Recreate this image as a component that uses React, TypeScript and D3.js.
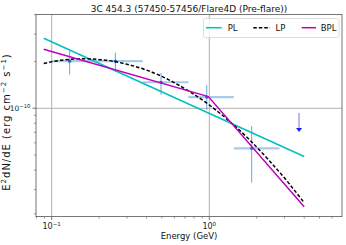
import * as d3 from "d3";

// binned SED points (GeV, erg cm-2 s-1)
const energy = [0.13, 0.2535, 0.494, 0.963, 1.858];
const binLo = [0.1, 0.1945, 0.378, 0.736, 1.43];
const binHi = [0.1945, 0.378, 0.736, 1.43, 2.79];
const flux = [2.01e-10, 2.01e-10, 1.47e-10, 1.18e-10, 5.53e-11];
const fluxLo = [1.65e-10, 1.72e-10, 1.22e-10, 9.75e-11, 3.33e-11];
const fluxHi = [2.34e-10, 2.28e-10, 1.68e-10, 1.41e-10, 7.69e-11];

// upper limit
const ulEnergy = 3.71;
const ulFlux = 9.33e-11;
const ulTip = 7.04e-11;

// model curves
const plEnergy = [0.089, 4.0];
const plFlux = [2.82e-10, 4.9e-11];
const bplEnergy = [0.089, 0.986, 4.0];
const bplFlux = [2.4e-10, 1.19e-10, 2.33e-11];
const lpEnergy = [0.089, 0.12, 0.16, 0.22, 0.3, 0.4, 0.55, 0.75, 1.0, 1.35, 1.8, 2.4, 3.2, 4.0];
const lpFlux = [
  1.94e-10, 2.05e-10, 2.08e-10, 2.04e-10, 1.92e-10, 1.76e-10, 1.53e-10,
  1.28e-10, 1.05e-10, 8.21e-11, 6.27e-11, 4.61e-11, 3.29e-11, 2.47e-11,
];

const xMajor = [0.1, 1];
const xMajorExp = ["−1", "0"];
const xMinor = [0.08, 0.09, 0.2, 0.3, 0.4, 0.5, 0.6, 0.7, 0.8, 0.9, 2, 3, 4, 5, 6];
const yMajor = [1e-10];
const yMajorExp = ["−10"];
const yMinor = [2e-10, 3e-10, 4e-10, 9e-11, 8e-11, 7e-11, 6e-11, 5e-11, 4e-11, 3e-11, 2.1e-11];

const FONT = "DejaVu Sans, sans-serif";
const AXIS = "#555";
const GRID = "#b0b0b0";

const App = () => {
  const width = 346,
    height = 245,
    left = 36,
    right = 342,
    top = 14.5,
    bottom = 216.6;

  const x = d3.scaleLog().domain([0.0795, 6.95]).range([left, right]);
  const y = d3.scaleLog().domain([2.011e-11, 4.01e-10]).range([bottom, top]);

  const straight = (es: number[], fs: number[]) =>
    d3.line<number>((d, i) => x(es[i]), (d) => y(d))(fs) as string;
  const lpPath = d3
    .line<number>((d, i) => x(lpEnergy[i]), (d) => y(d))
    .curve(d3.curveMonotoneX)(lpFlux) as string;

  return (
    <svg width={width} height={height} style={{ display: "block", position: "absolute", left: 0, top: 0 }}>
      <rect width={width} height={height} fill="white" />
      <defs>
        <clipPath id="plot">
          <rect x={left} y={top} width={right - left} height={bottom - top} />
        </clipPath>
      </defs>

      {/* grid */}
      {xMajor.map((t) => (
        <line key={"gx" + t} x1={x(t)} x2={x(t)} y1={top} y2={bottom} stroke={GRID} strokeWidth={1} />
      ))}
      {yMajor.map((t) => (
        <line key={"gy" + t} x1={left} x2={right} y1={y(t)} y2={y(t)} stroke={GRID} strokeWidth={1} />
      ))}

      <g clipPath="url(#plot)">
        {/* error bars */}
        {energy.map((e, i) => (
          <g key={"pt" + i}>
            <line x1={x(binLo[i])} x2={x(binHi[i])} y1={y(flux[i])} y2={y(flux[i])}
              stroke="#a9cae8" strokeWidth={2.2} />
            <line x1={x(e)} x2={x(e)} y1={y(fluxLo[i])} y2={y(fluxHi[i])}
              stroke="#6aa3d8" strokeWidth={1} />
            <circle cx={x(e)} cy={y(flux[i])} r={1.6} fill="#2b63d6" />
          </g>
        ))}
        <line x1={x(ulEnergy)} x2={x(ulEnergy)} y1={y(ulFlux)} y2={y(ulTip) - 3}
          stroke="#8a8cf0" strokeWidth={1.2} />
        <path
          d={`M${x(ulEnergy) - 3},${y(ulTip) - 4} L${x(ulEnergy) + 3},${y(ulTip) - 4} L${x(ulEnergy)},${y(ulTip)} Z`}
          fill="#1a1aff"
        />

        {/* models */}
        <path d={straight(plEnergy, plFlux)} fill="none" stroke="#00bfbf" strokeWidth={1.5} />
        <path d={lpPath} fill="none" stroke="black" strokeWidth={1.5} strokeDasharray="3.5,2" />
        <path d={straight(bplEnergy, bplFlux)} fill="none" stroke="#bf00bf" strokeWidth={1.5} />
      </g>

      {/* frame */}
      <rect x={left} y={top} width={right - left} height={bottom - top} fill="none" stroke={AXIS} strokeWidth={0.8} />

      {/* x ticks */}
      {xMajor.map((t, i) => (
        <g key={"xt" + t}>
          <line x1={x(t)} x2={x(t)} y1={bottom} y2={bottom + 3.5} stroke={AXIS} strokeWidth={0.8} />
          <text x={x(t)} y={bottom + 12.5} fontFamily={FONT} fontSize={8} textAnchor="middle" fill="#222">
            10<tspan dy={-3.3} fontSize={5.6}>{xMajorExp[i]}</tspan>
          </text>
        </g>
      ))}
      {xMinor.map((t) => (
        <line key={"xm" + t} x1={x(t)} x2={x(t)} y1={bottom} y2={bottom + 2} stroke={AXIS} strokeWidth={0.6} />
      ))}

      {/* y ticks */}
      {yMajor.map((t, i) => (
        <g key={"yt" + t}>
          <line x1={left - 3.5} x2={left} y1={y(t)} y2={y(t)} stroke={AXIS} strokeWidth={0.8} />
          <text x={left - 5.5} y={y(t) + 2.8} fontFamily={FONT} fontSize={7.5} textAnchor="end" fill="#222">
            10<tspan dy={-3.2} fontSize={5.3}>{yMajorExp[i]}</tspan>
          </text>
        </g>
      ))}
      {yMinor.map((t) => (
        <line key={"ym" + t} x1={left - 2} x2={left} y1={y(t)} y2={y(t)} stroke={AXIS} strokeWidth={0.6} />
      ))}

      {/* labels */}
      <text x={(left + right) / 2} y={11.5} fontFamily={FONT} fontSize={9} textAnchor="middle" fill="#111">
        3C 454.3 (57450-57456/Flare4D (Pre-flare))
      </text>
      <text x={(left + right) / 2} y={239} fontFamily={FONT} fontSize={8.5} textAnchor="middle" fill="#111">
        Energy (GeV)
      </text>
      <text
        transform={`translate(9.5,122) rotate(-90)`}
        fontFamily={FONT}
        fontSize={10}
        textAnchor="middle"
        fill="#111"
        letterSpacing={1}
      >
        E<tspan dy={-4} fontSize={7}>2</tspan>
        <tspan dy={4}>dN/dE (erg cm</tspan>
        <tspan dy={-4} fontSize={7}>−2</tspan>
        <tspan dy={4}> s</tspan>
        <tspan dy={-4} fontSize={7}>−1</tspan>
        <tspan dy={4}>)</tspan>
      </text>

      {/* legend */}
      <rect x={203.5} y={18.5} width={135.5} height={19} rx={2.5} fill="white" fillOpacity={0.8} stroke="#d5d5d5" strokeWidth={0.8} />
      <line x1={206} x2={221.7} y1={27.7} y2={27.7} stroke="#00bfbf" strokeWidth={1.5} />
      <text x={227.7} y={31} fontFamily={FONT} fontSize={8.5} fill="#111">PL</text>
      <line x1={253.3} x2={270} y1={27.7} y2={27.7} stroke="black" strokeWidth={1.5} strokeDasharray="3.5,2" />
      <text x={275.5} y={31} fontFamily={FONT} fontSize={8.5} fill="#111">LP</text>
      <line x1={301.7} x2={316} y1={27.7} y2={27.7} stroke="#bf00bf" strokeWidth={1.5} />
      <text x={320.7} y={31} fontFamily={FONT} fontSize={8.5} fill="#111">BPL</text>
    </svg>
  );
};

export default App;
